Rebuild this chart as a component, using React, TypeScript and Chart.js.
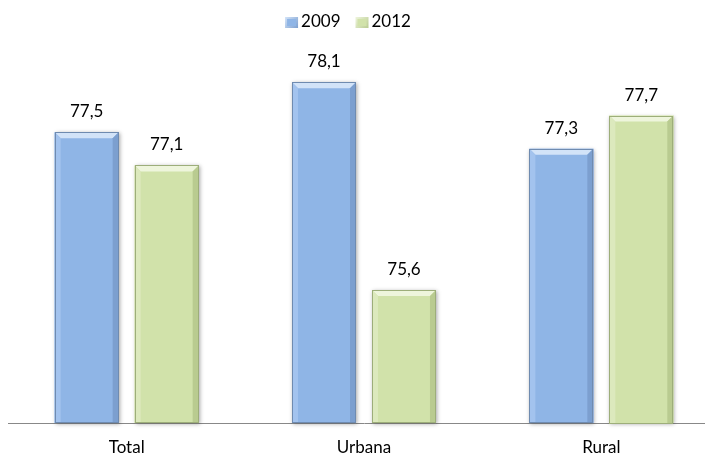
import React, { useEffect, useRef } from "react";
import { Chart, registerables } from "chart.js";

Chart.register(...registerables);

const categories = ["Total", "Urbana", "Rural"];
const seriesLabels = ["2009", "2012"];
const values2009 = [77.5, 78.1, 77.3];
const values2012 = [77.1, 75.6, 77.7];
const yMin = 74;
const yMax = 78.5;

const FONT = "Lato, 'Liberation Sans', sans-serif";

const palettes = [
  { face: "#8FB5E6", light: "#D2E3F8", side: "#A3C3EE", dark: "#7C9FCF", edge: "#6F8BB0" },
  { face: "#D1E2AA", light: "#EEF5DC", side: "#DCE9BD", dark: "#B9CB90", edge: "#9DAE7A" },
];

const fmt = (v: number) => v.toFixed(1).replace(".", ",");

const barGeom = (chart: any, bar: any) => {
  const { x, y, base, width } = bar.getProps(["x", "y", "base", "width"], true);
  const bottom = Math.min(base, chart.chartArea.bottom);
  return { x, y, base: bottom, width };
};

const bevelPlugin = {
  id: "bevel",
  beforeDatasetsDraw(chart: any) {
    const ctx = chart.ctx;
    chart.data.datasets.forEach((_ds: any, i: number) => {
      const meta = chart.getDatasetMeta(i);
      const pal = palettes[i];
      meta.data.forEach((bar: any) => {
        const { x, y, base, width } = barGeom(chart, bar);
        ctx.save();
        ctx.shadowColor = "rgba(0,0,0,0.35)";
        ctx.shadowBlur = 4;
        ctx.shadowOffsetX = 1;
        ctx.shadowOffsetY = 1;
        ctx.fillStyle = pal.face;
        ctx.fillRect(x - width / 2, y, width, base - y);
        ctx.restore();
      });
    });
  },
  afterDatasetsDraw(chart: any) {
    const ctx = chart.ctx;
    const b = 6;
    chart.data.datasets.forEach((ds: any, i: number) => {
      const meta = chart.getDatasetMeta(i);
      const pal = palettes[i];
      meta.data.forEach((bar: any, j: number) => {
        const { x, y, base, width } = barGeom(chart, bar);
        const l = x - width / 2;
        const r = x + width / 2;
        const t = y;
        ctx.save();
        ctx.fillStyle = pal.light;
        ctx.beginPath();
        ctx.moveTo(l, t);
        ctx.lineTo(r, t);
        ctx.lineTo(r - b, t + b);
        ctx.lineTo(l + b, t + b);
        ctx.closePath();
        ctx.fill();
        ctx.fillStyle = pal.side;
        ctx.beginPath();
        ctx.moveTo(l, t);
        ctx.lineTo(l + b, t + b);
        ctx.lineTo(l + b, base);
        ctx.lineTo(l, base);
        ctx.closePath();
        ctx.fill();
        ctx.fillStyle = pal.dark;
        ctx.beginPath();
        ctx.moveTo(r, t);
        ctx.lineTo(r - b, t + b);
        ctx.lineTo(r - b, base);
        ctx.lineTo(r, base);
        ctx.closePath();
        ctx.fill();
        ctx.strokeStyle = pal.edge;
        ctx.lineWidth = 1;
        ctx.strokeRect(Math.round(l) + 0.5, Math.round(t) + 0.5, Math.round(width) - 1, Math.round(base - t) - 1);
        ctx.restore();

        ctx.save();
        ctx.fillStyle = "#000";
        ctx.font = `17px ${FONT}`;
        ctx.textAlign = "center";
        ctx.textBaseline = "alphabetic";
        ctx.fillText(fmt(ds.data[j]), x, t - 15);
        ctx.restore();
      });
    });
  },
  afterDraw(chart: any) {
    const ctx = chart.ctx;
    const area = chart.chartArea;
    ctx.save();
    ctx.font = `17px ${FONT}`;
    const box = 13;
    const gapText = 3;
    const gapItem = 15;
    const items = chart.data.datasets.map((ds: any, i: number) => ({
      label: ds.label,
      pal: palettes[i],
      w: box + gapText + ctx.measureText(ds.label).width,
    }));
    const total = items.reduce((s: number, it: any) => s + it.w, 0) + gapItem * (items.length - 1);
    let xPos = (area.left + area.right) / 2 - 16 - total / 2;
    const boxTop = 17;
    items.forEach((it: any) => {
      const g = ctx.createLinearGradient(xPos, boxTop, xPos + box, boxTop + 11);
      g.addColorStop(0, it.pal.light);
      g.addColorStop(1, it.pal.dark);
      ctx.fillStyle = g;
      ctx.fillRect(xPos, boxTop, box, 11);
      ctx.fillStyle = it.pal.face;
      ctx.fillRect(xPos + 2, boxTop + 2, box - 4, 7);
      ctx.fillStyle = "#000";
      ctx.textAlign = "left";
      ctx.textBaseline = "alphabetic";
      ctx.fillText(it.label, xPos + box + gapText, 27);
      xPos += it.w + gapItem;
    });
    ctx.restore();
  },
};

export default function App() {
  const ref = useRef<HTMLCanvasElement>(null);

  useEffect(() => {
    const chart = new Chart(ref.current as HTMLCanvasElement, {
      type: "bar",
      data: {
        labels: categories,
        datasets: [
          {
            label: seriesLabels[0],
            data: values2009,
            backgroundColor: palettes[0].face,
            borderWidth: 0,
            categoryPercentage: 0.674,
            barPercentage: 0.8,
          },
          {
            label: seriesLabels[1],
            data: values2012,
            backgroundColor: palettes[1].face,
            borderWidth: 0,
            categoryPercentage: 0.674,
            barPercentage: 0.8,
          },
        ],
      },
      options: {
        responsive: false,
        animation: false,
        devicePixelRatio: 1,
        layout: { padding: { left: 8, right: 10, top: 49, bottom: 8.5 } },
        plugins: {
          legend: { display: false },
          tooltip: { enabled: false },
        },
        scales: {
          x: {
            grid: { display: false, drawTicks: false },
            border: { display: true, color: "#888888", width: 1 },
            ticks: {
              color: "#000",
              font: { family: FONT, size: 17 },
              padding: 14,
            },
          },
          y: {
            display: false,
            min: yMin,
            max: yMax,
          },
        },
      },
      plugins: [bevelPlugin],
    });
    return () => chart.destroy();
  }, []);

  return (
    <div
      style={{
        position: "fixed",
        left: 0,
        top: 0,
        width: 705,
        height: 455,
        overflow: "hidden",
        background: "#fff",
      }}
    >
      <canvas ref={ref} width={730} height={480} style={{ display: "block", width: 730, height: 480 }} />
    </div>
  );
}
